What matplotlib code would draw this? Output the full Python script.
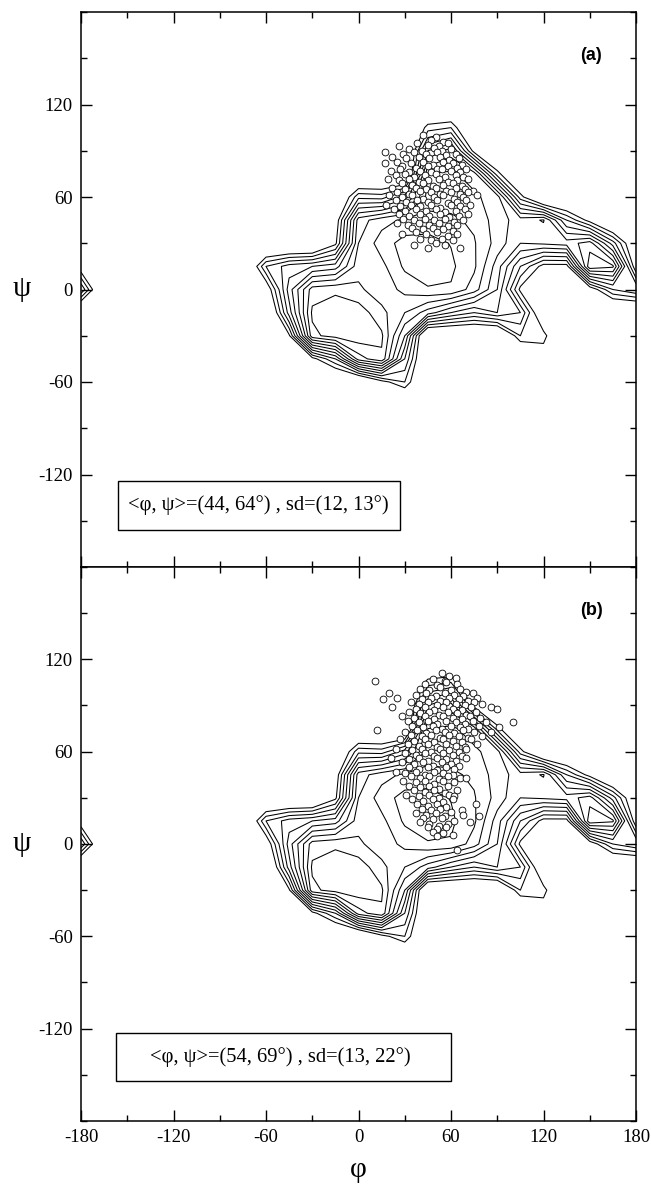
import numpy as np
import matplotlib
matplotlib.use("Agg")
import matplotlib.pyplot as plt
from matplotlib.patches import Rectangle
from matplotlib.ticker import MultipleLocator

# ---------------- data ----------------
grid_step = 15
outside_level = 13.0
contour_levels = [1, 2, 3, 4, 5, 6, 7, 8, 9, 10]

# energy-like surface (phi = -75..180, psi = 120..-90, 15 deg step)
region_phi = list(range(-75, 181, 15))
region_psi = list(range(120, -91, -15))
energy_rows = [
    # -75  -60  -45  -30  -15   0    15   30   45   60   75   90   105  120  135  150  165  180
    [13,  13,  13,  13,  13,  13,  13,  13,  13,  13,  13,  13,  13,  13,  13,  13,  13,  13],   # 120
    [13,  13,  13,  13,  13,  13,  13,  13,  9.5, 9,   13,  13,  13,  13,  13,  13,  13,  13],   # 105
    [13,  13,  13,  13,  13,  13,  13,  13,  6,   4.5, 10.5, 13, 13,  13,  13,  13,  13,  13],   # 90
    [13,  13,  13,  13,  13,  13,  13,  13,  3,   2.8, 3.5, 9.5, 13,  13,  13,  13,  13,  13],   # 75
    [13,  13,  13,  13,  12.5, 8.3, 8.5, 6.5, 2.6, 2.5, 2.8, 3.5, 9.5, 13,  13,  13,  13,  13],  # 60
    [13,  13,  13,  13,  11,  3.5, 2.4, 1.8, 1.6, 1.8, 2.2, 3.5, 4.5, 3.9, 8,   10.5, 13, 13],  # 45
    [13,  13,  13,  13,  10.3, 3,  1.5, 0.6, 0.6, 1.05, 1.9, 3.4, 5,  4.8, 4.5, 3.5, 7.5, 12],  # 30
    [13,  8,   6.5, 6,   5.5, 2.4, 2.3, 0.8, 0.4, 0.8, 1.8, 4.5, 8,   10.5, 10.5, 2.2, 2.8, 11], # 15
    [13,  11.2, 5.5, 1.5, 1.2, 1.8, 2.6, 1.7, 1.1, 1.1, 2.5, 5,  10.3, 13, 13,  11,  8,   7],   # 0
    [13,  13,  6.5, 0.8, 0.4, 0.4, 1.7, 3,   4.5, 6,   7,   6,   7,   12,  13,  13,  13,  13],  # -15
    [13,  13,  10.2, 1.3, 0.5, 0.3, 0.8, 5,  13,  13,  13,  13,  9,   9.5, 13,  13,  13,  13],  # -30
    [13,  13,  13,  10.5, 8,  2.5, 1.2, 7,   13,  13,  13,  13,  13,  11,  13,  13,  13,  13],  # -45
    [13,  13,  13,  13,  13,  13,  10.5, 9,  13,  13,  13,  13,  13,  13,  13,  13,  13,  13],  # -60
    [13,  13,  13,  13,  13,  13,  13,  13,  13,  13,  13,  13,  13,  13,  13,  13,  13,  13],  # -75
    [13,  13,  13,  13,  13,  13,  13,  13,  13,  13,  13,  13,  13,  13,  13,  13,  13,  13],  # -90
]

points_a = [
    (42,100),(50,99),(47,97),(55,96),
    (26,93),(38,95),(45,94),(52,93),(58,95),
    (33,91),(41,90),(49,92),(54,90),(60,91),
    (17,89),(29,88),(36,89),(44,88),(51,89),(57,87),(63,88),
    (22,86),(31,85),(39,86),(46,85),(53,86),(59,84),(65,85),
    (17,82),(25,83),(34,82),(42,83),(48,81),(55,83),(61,82),(67,81),
    (28,80),(37,79),(45,80),(51,78),(58,80),(64,79),
    (21,77),(27,78),(33,76),(40,77),(47,76),(54,78),(60,77),(66,76),(70,78),
    (24,74),(30,75),(36,73),(43,74),(50,75),(56,73),(63,74),(68,73),
    (19,72),(26,71),(33,72),(39,70),(45,71),(52,72),(58,70),(64,71),(71,72),
    (28,69),(35,68),(42,69),(48,67),(55,68),(61,69),(67,67),
    (22,66),(30,65),(37,66),(44,65),(50,66),(57,64),(63,66),(69,65),(74,64),
    (25,63),(33,62),(40,64),(47,63),(53,62),(60,63),(66,62),(71,63),
    (20,61),(28,60),(35,61),(42,59),(49,60),(55,61),(62,59),(68,60),(77,61),
    (24,58),(31,57),(38,58),(45,57),(51,58),(58,56),(64,57),(70,58),
    (18,55),(27,54),(34,55),(40,54),(47,55),(53,53),(60,55),(66,54),(72,55),
    (23,52),(30,51),(37,52),(44,51),(50,52),(56,50),(63,51),(69,52),
    (26,49),(33,48),(40,49),(46,48),(53,49),(59,47),(65,48),(71,49),
    (29,46),(36,45),(43,46),(49,45),(56,46),(62,44),(68,45),
    (25,43),(32,42),(39,43),(46,42),(52,43),(58,41),(64,42),
    (35,40),(42,39),(48,40),(55,39),(61,38),
    (28,36),(37,37),(44,36),(51,37),(58,35),(64,36),
    (40,33),(47,32),(54,33),(61,32),
    (36,29),(50,30),(56,29),(45,27),(66,27),
]

points_b = [
    (54,111),(59,109),(48,107),(56,106),(63,108),
    (11,106),(43,104),(51,103),(57,105),(64,104),
    (40,101),(46,100),(53,102),(60,100),(66,101),(70,99),
    (20,98),(37,97),(44,98),(50,96),(56,98),(62,97),(68,96),(74,98),
    (16,94),(25,95),(41,94),(47,95),(53,93),(59,95),(65,94),(71,93),(77,95),
    (34,92),(39,91),(45,92),(51,90),(57,92),(63,91),(69,90),(75,92),(80,91),
    (22,89),(37,88),(43,89),(49,87),(55,89),(61,88),(67,87),(73,89),(86,89),(90,88),
    (33,86),(40,85),(46,86),(52,84),(58,86),(64,85),(70,84),(76,86),
    (28,83),(36,82),(43,83),(49,81),(55,83),(61,82),(67,81),(72,83),(79,82),
    (32,80),(39,79),(45,80),(51,78),(57,80),(63,79),(69,78),(74,80),(83,79),(100,79),
    (35,77),(42,76),(48,77),(54,75),(60,77),(66,76),(71,75),(78,77),(91,76),
    (12,74),(30,73),(38,74),(44,72),(50,74),(56,73),(62,72),(68,74),(75,73),(86,73),
    (34,71),(41,70),(47,71),(53,69),(59,71),(65,70),(71,69),(80,70),
    (27,68),(36,67),(43,68),(49,66),(55,68),(61,67),(67,66),(73,68),
    (32,65),(39,64),(45,65),(51,63),(57,65),(63,64),(69,63),(77,65),
    (24,62),(35,61),(41,62),(47,60),(53,62),(59,61),(65,60),(70,62),
    (30,59),(37,58),(43,59),(49,57),(55,59),(61,58),(67,57),
    (21,56),(33,55),(39,56),(45,54),(51,56),(57,55),(63,54),(70,56),
    (28,53),(36,52),(42,53),(48,51),(54,53),(60,52),(65,51),
    (33,50),(39,49),(45,50),(51,48),(57,50),(62,49),
    (24,47),(30,46),(37,47),(43,45),(49,47),(55,46),(61,45),
    (34,44),(40,43),(46,44),(52,42),(58,44),(66,43),(70,43),
    (29,41),(37,40),(43,41),(49,39),(55,41),(62,40),
    (33,38),(40,37),(46,38),(52,36),(58,38),
    (36,35),(43,34),(49,35),(56,33),(64,35),
    (31,32),(39,31),(46,32),(52,30),(59,32),(62,31),
    (35,29),(42,28),(48,29),(55,27),(61,29),
    (38,26),(45,25),(51,26),(57,24),(76,26),
    (41,23),(47,22),(53,23),(60,21),(67,22),
    (37,20),(44,19),(50,20),(56,18),(68,19),
    (42,17),(48,16),(54,17),(62,15),(72,14),(78,18),
    (40,14),(46,13),(52,12),(58,13),
    (45,11),(51,10),(57,11),
    (48,8),(55,7),(51,5),(61,6),(64,-4),
]

panel_labels = ["(a)", "(b)"]
stat_texts = ["<\u03c6, \u03c8>=(44, 64\u00b0) , sd=(12, 13\u00b0)",
              "<\u03c6, \u03c8>=(54, 69\u00b0) , sd=(13, 22\u00b0)"]
x_ticks = [-180, -120, -60, 0, 60, 120, 180]
y_ticks = [-120, -60, 0, 60, 120]

# ---------------- build full periodic grid ----------------
full_axis = np.arange(-180, 181, grid_step)
F = np.full((len(full_axis), len(full_axis)), outside_level)
for r, psi in enumerate(region_psi):
    i = int((psi + 180) / grid_step)
    for c, phi in enumerate(region_phi):
        j = int((phi + 180) / grid_step)
        F[i, j] = energy_rows[r][c]
F[:, 0] = F[:, -1]   # periodic in phi
PHI, PSI = np.meshgrid(full_axis, full_axis)

# ---------------- figure ----------------
serif = ["Liberation Serif", "DejaVu Serif"]
plt.rcParams["font.family"] = serif
plt.rcParams["axes.unicode_minus"] = False

fig = plt.figure(figsize=(6.51, 11.86), dpi=100)
W, H = 651, 1186
ax_a = fig.add_axes([81 / W, 1 - 567 / H, 555 / W, 555 / H])
ax_b = fig.add_axes([81 / W, 1 - 1121 / H, 555 / W, 554 / H])

boxes = [(-156, 27, -156, -124), (-157, 60, -154, -123)]
text_x = [-65, -51]

for k, (ax, pts) in enumerate([(ax_a, points_a), (ax_b, points_b)]):
    ax.contour(PHI, PSI, F, levels=contour_levels, colors="k", linewidths=0.75)
    ph = [p[0] for p in pts]
    ps = [p[1] for p in pts]
    ax.scatter(ph, ps, s=24, facecolors="white", edgecolors="black",
               linewidths=0.6, zorder=3)
    ax.set_xlim(-180, 180)
    ax.set_ylim(-180, 180)
    ax.set_xticks(x_ticks)
    ax.set_yticks(y_ticks)
    ax.xaxis.set_minor_locator(MultipleLocator(30))
    ax.yaxis.set_minor_locator(MultipleLocator(30))
    ax.tick_params(which="both", direction="in", top=True, right=True,
                   labelsize=13.5, width=1.0, pad=6)
    ax.tick_params(which="major", length=8)
    ax.tick_params(which="minor", length=4.5)
    for s in ax.spines.values():
        s.set_linewidth(1.1)
    ax.text(151, 152, panel_labels[k], fontsize=13, fontweight="bold",
            family=["Liberation Sans", "DejaVu Sans"], ha="center", va="center")
    x0, x1, y0, y1 = boxes[k]
    ax.add_patch(Rectangle((x0, y0), x1 - x0, y1 - y0, fill=False,
                           edgecolor="black", linewidth=1.0, zorder=4))
    ax.text(text_x[k], (y0 + y1) / 2, stat_texts[k], fontsize=14.8,
            ha="center", va="center", zorder=5)

# psi labels (one per panel)
fig.text(22 / W, 1 - 289 / H, "\u03c8", fontsize=21, ha="center", va="center")
fig.text(22 / W, 1 - 844 / H, "\u03c8", fontsize=21, ha="center", va="center")

ax_a.tick_params(labelbottom=False)
ax_b.set_xlabel("\u03c6", fontsize=21, labelpad=8)

fig.savefig("out.png", dpi=100)
